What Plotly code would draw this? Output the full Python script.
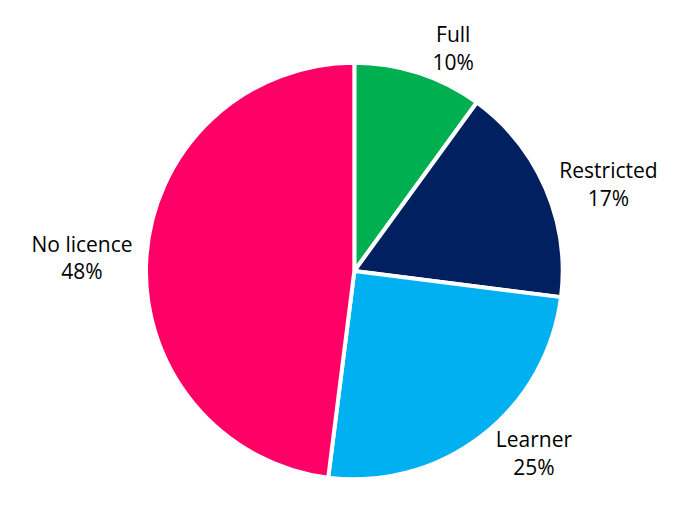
import plotly.graph_objects as go

# Licence status shares
categories = ["Full", "Restricted", "Learner", "No licence"]
values = [10, 17, 25, 48]
colors = ["#00B050", "#002060", "#00B0F0", "#FF0066"]

fig = go.Figure(
    go.Pie(
        labels=categories,
        values=values,
        sort=False,
        direction="clockwise",
        rotation=0,
        domain=dict(x=[0, 0.985], y=[0, 1]),
        marker=dict(colors=colors, line=dict(color="white", width=4)),
        textposition="outside",
        texttemplate="%{label}<br>%{percent:.0%}",
        textfont=dict(family="Open Sans", size=21, color="black"),
        hoverinfo="label+percent",
        showlegend=False,
    )
)

fig.update_layout(
    width=673,
    height=510,
    margin=dict(l=0, r=0, t=0, b=32),
    paper_bgcolor="white",
    plot_bgcolor="white",
)

fig.write_html("out.html")
